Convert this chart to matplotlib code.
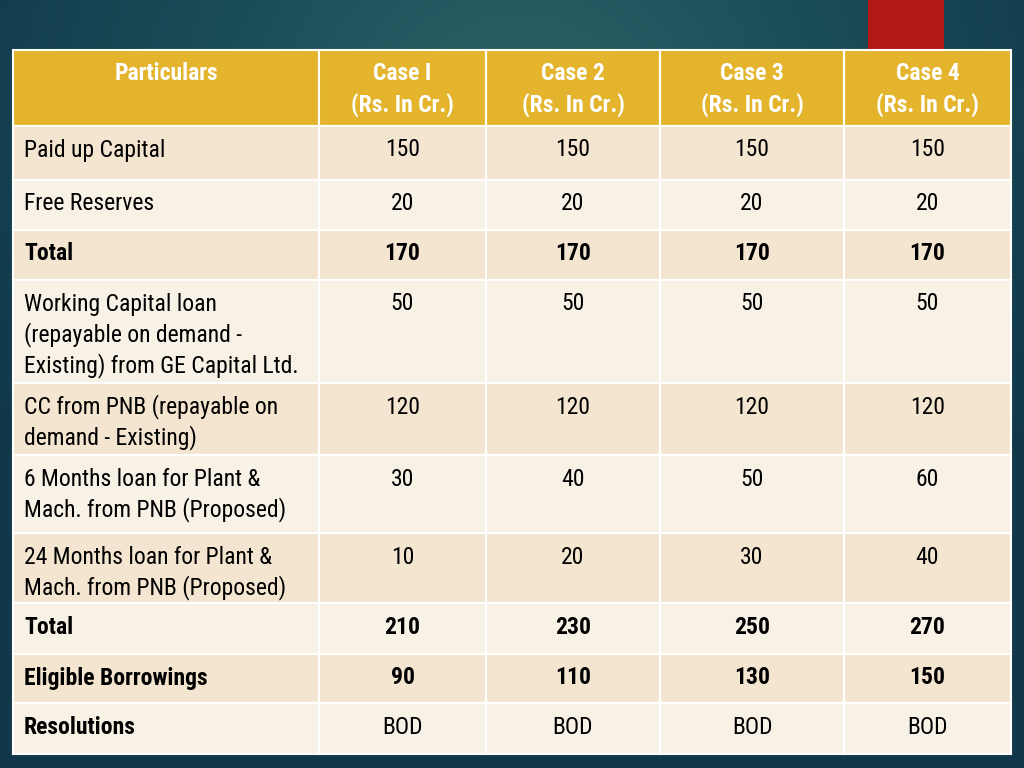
import numpy as np
import matplotlib
matplotlib.use("Agg")
import matplotlib.pyplot as plt
from matplotlib.patches import Rectangle
from matplotlib.colors import LinearSegmentedColormap

plt.rcParams['font.family'] = ['Roboto Condensed', 'Liberation Sans', 'DejaVu Sans']

# ---------------- data ----------------
headers = ["Particulars", "Case I\n(Rs. In Cr.)", "Case 2\n(Rs. In Cr.)",
           "Case 3\n(Rs. In Cr.)", "Case 4\n(Rs. In Cr.)"]
row_labels = [
    "Paid up Capital",
    "Free Reserves",
    "Total",
    "Working Capital loan\n(repayable on demand -\nExisting) from GE Capital Ltd.",
    "CC from PNB (repayable on\ndemand - Existing)",
    "6 Months loan for Plant &\nMach. from PNB (Proposed)",
    "24 Months loan for Plant &\nMach. from PNB (Proposed)",
    "Total",
    "Eligible Borrowings",
    "Resolutions",
]
case1 = ["150", "20", "170", "50", "120", "30", "10", "210", "90", "BOD"]
case2 = ["150", "20", "170", "50", "120", "40", "20", "230", "110", "BOD"]
case3 = ["150", "20", "170", "50", "120", "50", "30", "250", "130", "BOD"]
case4 = ["150", "20", "170", "50", "120", "60", "40", "270", "150", "BOD"]
label_bold = [False, False, True, False, False, False, False, True, True, True]
value_bold = [False, False, True, False, False, False, False, True, True, False]

# ---------------- layout (pixels) ----------------
W, H = 1024, 768
col_edges = [13, 319, 486, 660, 844, 1011]
row_edges = [50, 126, 180, 230, 280, 383, 455, 533, 603, 654, 703, 754]
first_line = 24
line_step = 31

fig = plt.figure(figsize=(W / 100, H / 100), dpi=100)
ax = fig.add_axes([0, 0, 1, 1])
ax.set_xlim(0, W)
ax.set_ylim(H, 0)
ax.axis('off')

# background gradient
yy, xx = np.mgrid[0:H, 0:W]
d = np.sqrt(((xx - 520) / 620.0) ** 2 + ((yy - 120) / 560.0) ** 2)
d = np.clip(d, 0, 1)
cmap = LinearSegmentedColormap.from_list("bg", ["#2D6468", "#1B4D58", "#10384A"])
ax.imshow(d, cmap=cmap, extent=(0, W, H, 0), aspect='auto', zorder=0, vmin=0, vmax=1)

# red accent block
ax.add_patch(Rectangle((868, 0), 76, row_edges[0], facecolor="#B31818", edgecolor='none', zorder=1))

# header cells
fs = 17
for j, htxt in enumerate(headers):
    x0, x1 = col_edges[j], col_edges[j + 1]
    y0, y1 = row_edges[0], row_edges[1]
    ax.add_patch(Rectangle((x0, y0), x1 - x0, y1 - y0, facecolor="#E4B52C",
                           edgecolor="white", linewidth=1.5, zorder=2))
    for k, line in enumerate(htxt.split("\n")):
        ax.text((x0 + x1) / 2, y0 + first_line + k * line_step, line, ha='center', va='center',
                color='white', fontsize=fs, fontweight='bold', zorder=3)

# body cells
cases = [case1, case2, case3, case4]
for i, label in enumerate(row_labels):
    y0, y1 = row_edges[i + 1], row_edges[i + 2]
    fc = "#F3E5CF" if i % 2 == 0 else "#F8F1E6"
    for j in range(5):
        x0, x1 = col_edges[j], col_edges[j + 1]
        ax.add_patch(Rectangle((x0, y0), x1 - x0, y1 - y0, facecolor=fc,
                               edgecolor="white", linewidth=1.5, zorder=2))
    for k, line in enumerate(label.split("\n")):
        ax.text(col_edges[0] + 11, y0 + first_line + k * line_step, line, ha='left', va='center',
                color='black', fontsize=fs,
                fontweight='bold' if label_bold[i] else 'normal', zorder=3)
    for j, cv in enumerate(cases):
        x0, x1 = col_edges[j + 1], col_edges[j + 2]
        ax.text((x0 + x1) / 2, y0 + first_line, cv[i], ha='center', va='center',
                color='black', fontsize=fs,
                fontweight='bold' if value_bold[i] else 'normal', zorder=3)

fig.savefig("out.png", dpi=100)
